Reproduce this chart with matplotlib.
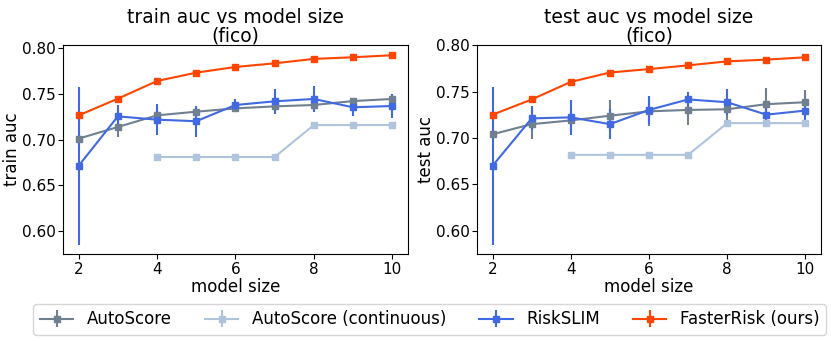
import matplotlib.pyplot as plt

plt.rcParams["font.family"] = "DejaVu Sans"

sizes = [2, 3, 4, 5, 6, 7, 8, 9, 10]
cont_sizes = [4, 5, 6, 7, 8, 9, 10]

# train auc
train_autoscore = [0.701, 0.7137, 0.7264, 0.7304, 0.734, 0.7362, 0.7377, 0.742, 0.7443]
train_autoscore_err = [0.004, 0.011, 0.010, 0.005, 0.003, 0.005, 0.006, 0.003, 0.004]
train_cont = [0.6809, 0.6809, 0.6809, 0.6809, 0.7158, 0.7158, 0.7158]
train_cont_err = [0.0005, 0.0005, 0.0005, 0.0005, 0.0005, 0.0005, 0.0005]
train_riskslim = [0.6714, 0.7253, 0.7217, 0.720, 0.7377, 0.7417, 0.7443, 0.7352, 0.7366]
train_riskslim_err = [0.086, 0.012, 0.017, 0.017, 0.007, 0.014, 0.014, 0.010, 0.013]
train_fasterrisk = [0.7264, 0.7446, 0.7639, 0.773, 0.7792, 0.7832, 0.788, 0.7898, 0.792]
train_fasterrisk_err = [0.0008, 0.0008, 0.0008, 0.0008, 0.0008, 0.0008, 0.0008, 0.0008, 0.0008]

# test auc
test_autoscore = [0.704, 0.7149, 0.7189, 0.724, 0.7287, 0.7302, 0.7309, 0.7364, 0.7385]
test_autoscore_err = [0.004, 0.016, 0.012, 0.017, 0.016, 0.016, 0.012, 0.017, 0.013]
test_cont = [0.6818, 0.6818, 0.6818, 0.6818, 0.716, 0.716, 0.716]
test_cont_err = [0.003, 0.003, 0.003, 0.003, 0.003, 0.003, 0.003]
test_riskslim = [0.6702, 0.7211, 0.7222, 0.7149, 0.7302, 0.7415, 0.7385, 0.7251, 0.7295]
test_riskslim_err = [0.085, 0.013, 0.019, 0.016, 0.015, 0.008, 0.014, 0.007, 0.013]
test_fasterrisk = [0.7251, 0.7415, 0.7604, 0.7705, 0.7742, 0.7782, 0.7825, 0.7844, 0.7869]
test_fasterrisk_err = [0.002, 0.002, 0.002, 0.003, 0.003, 0.003, 0.002, 0.002, 0.003]

labels = ["AutoScore", "AutoScore (continuous)", "RiskSLIM", "FasterRisk (ours)"]
colors = ["slategray", "lightsteelblue", "royalblue", "orangered"]


def draw(ax, series, name):
    xs = [sizes, cont_sizes, sizes, sizes]
    handles = []
    for x, (y, e), label, color in zip(xs, series, labels, colors):
        h = ax.errorbar(x, y, yerr=e, color=color, marker="s", markersize=4,
                        linewidth=1.5, label=label)
        handles.append(h)
    ax.set_title(f"{name} auc vs model size\n(fico)", fontsize=13.5, pad=2,
                 linespacing=0.95)
    ax.set_xlabel("model size", fontsize=12, labelpad=1)
    ax.set_ylabel(f"{name} auc", fontsize=12, labelpad=1)
    ax.set_xticks([2, 4, 6, 8, 10])
    ax.set_yticks([0.60, 0.65, 0.70, 0.75, 0.80])
    ax.tick_params(axis="x", labelsize=11, pad=2)
    ax.tick_params(axis="y", labelsize=11, pad=1.5)
    return handles


fig = plt.figure(figsize=(8.31, 3.41), dpi=100)
ax1 = fig.add_axes([0.0758, 0.255, 0.415, 0.613])
ax2 = fig.add_axes([0.574, 0.255, 0.414, 0.613])

handles = draw(ax1, [(train_autoscore, train_autoscore_err),
                     (train_cont, train_cont_err),
                     (train_riskslim, train_riskslim_err),
                     (train_fasterrisk, train_fasterrisk_err)], "train")
draw(ax2, [(test_autoscore, test_autoscore_err),
           (test_cont, test_cont_err),
           (test_riskslim, test_riskslim_err),
           (test_fasterrisk, test_fasterrisk_err)], "test")

fig.legend(handles, labels, loc="lower center", ncol=4, fontsize=12,
           bbox_to_anchor=(0.517, 0.0), handletextpad=0.8, columnspacing=2.0,
           borderaxespad=0.35)

fig.savefig("out.png", dpi=100)
